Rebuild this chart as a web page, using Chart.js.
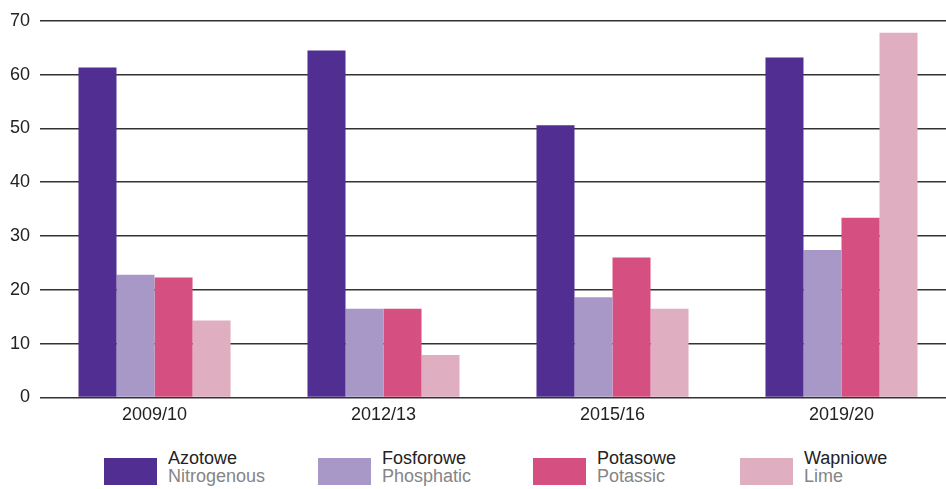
<!DOCTYPE html>
<html>
<head>
<meta charset="utf-8">
<script src="https://cdn.jsdelivr.net/npm/chart.js@4.4.1/dist/chart.umd.min.js"></script>
<style>
	body { margin: 0; overflow: hidden; background: #fff; font-family: "Liberation Sans", Arial, sans-serif; }
	#wrap { position: relative; width: 946px; height: 489px; overflow: hidden; }
	#mycanvas { position: absolute; left: 0; top: 0; }
	#legend { position: absolute; left: 104px; top: 449px; display: flex; }
	.item { display: flex; align-items: flex-start; width: 214px; }
	.item:nth-child(2) { width: 215px; }
	.item:nth-child(3) { width: 207px; }
	.box { width: 53px; height: 27px; margin-top: 9px; margin-right: 11px; }
	.txt { font-size: 18px; line-height: 18px; }
	.pl { color: #222; }
	.en { color: #858585; }
</style>
</head>
<body>
<div id="wrap">
	<canvas id="mycanvas" width="956" height="433"></canvas>
	<div id="legend"></div>
</div>
<script>
var years = ['2009/10', '2012/13', '2015/16', '2019/20'];
var namesPl = ['Azotowe', 'Fosforowe', 'Potasowe', 'Wapniowe'];
var namesEn = ['Nitrogenous', 'Phosphatic', 'Potassic', 'Lime'];
var colors = ['#512e91', '#a898c8', '#d64f81', '#e0aec1'];

var azotowe = [61.3, 64.5, 50.6, 63.2];
var fosforowe = [22.8, 16.5, 18.6, 27.4];
var potasowe = [22.3, 16.5, 26.0, 33.4];
var wapniowe = [14.3, 7.9, 16.5, 67.8];

var yTicks = [0, 10, 20, 30, 40, 50, 60, 70];

var series = [azotowe, fosforowe, potasowe, wapniowe];
var datasets = [];
for (var i in series) {
	datasets.push({
		label: namesPl[i],
		backgroundColor: colors[i],
		borderWidth: 0,
		data: series[i]
	});
}

var ctx = document.getElementById('mycanvas');
var barGraph = new Chart(ctx, {
	type: 'bar',
	data: { labels: years, datasets: datasets },
	options: {
		responsive: false,
		animation: false,
		events: [],
		layout: { padding: { left: 0, right: 0, top: 10, bottom: 0 } },
		datasets: { bar: { categoryPercentage: 0.664, barPercentage: 1 } },
		plugins: { legend: { display: false }, tooltip: { enabled: false } },
		scales: {
			x: {
				grid: { display: false, drawTicks: false },
				border: { display: false },
				ticks: { color: '#222', font: { family: 'Liberation Sans', size: 18 }, padding: 7 }
			},
			y: {
				min: 0,
				max: 70,
				afterBuildTicks: function(axis) {
					axis.ticks = yTicks.map(function(v) { return { value: v }; });
				},
				grid: { color: '#333', lineWidth: 1.5, drawTicks: false },
				border: { display: false },
				ticks: { color: '#222', font: { family: 'Liberation Sans', size: 18 }, padding: 10 }
			}
		}
	}
});

var legend = document.getElementById('legend');
for (var j in namesPl) {
	var item = document.createElement('div');
	item.className = 'item';
	item.innerHTML = '<div class="box" style="background:' + colors[j] + '"></div>' +
		'<div class="txt"><div class="pl">' + namesPl[j] + '</div><div class="en">' + namesEn[j] + '</div></div>';
	legend.appendChild(item);
}
</script>
</body>
</html>
